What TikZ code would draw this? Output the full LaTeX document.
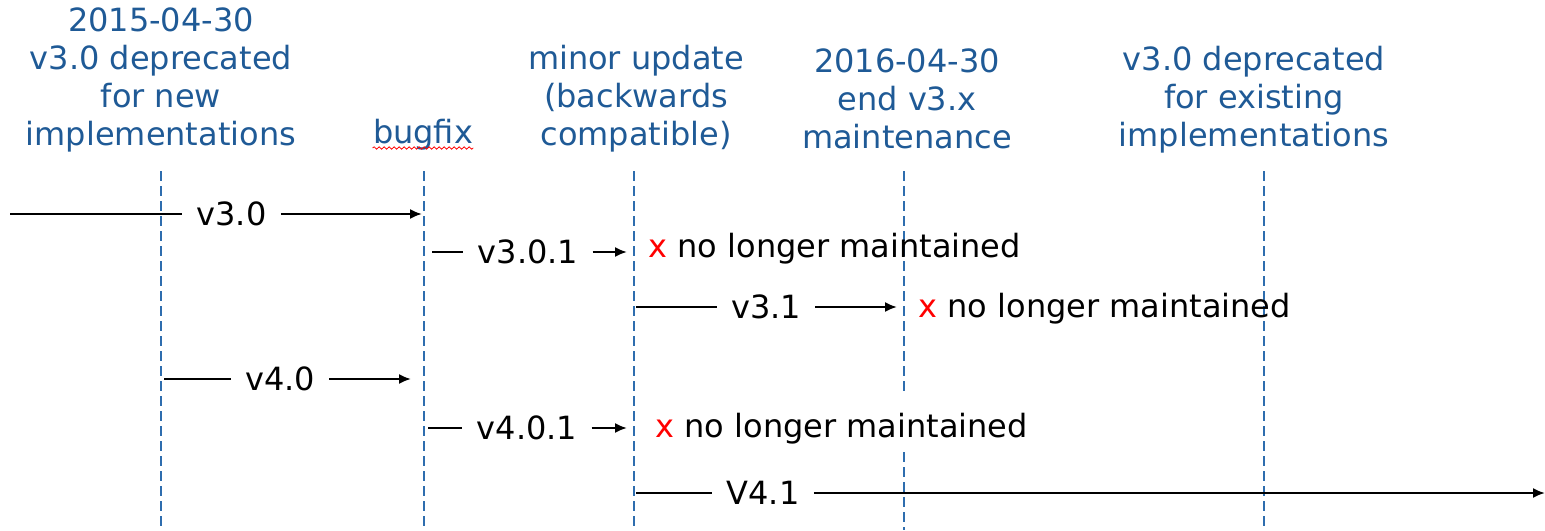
\documentclass[tikz,border=0pt]{standalone}
\usepackage{fontspec}
\setmainfont{DejaVu Sans}
\usetikzlibrary{arrows.meta,decorations.pathmorphing}
\definecolor{hdr}{RGB}{31,90,150}
\definecolor{dashblue}{RGB}{46,109,174}
\definecolor{xred}{RGB}{255,0,0}
\begin{document}
\begin{tikzpicture}[x=0.5pt,y=-0.5pt,
  hdrtext/.style={text=hdr, align=center, inner sep=0pt, anchor=base, font=\fontsize{16}{19}\selectfont},
  guide/.style={draw=dashblue, line width=1.2pt, dash pattern=on 4.75pt off 2.75pt},
  lbl/.style={inner xsep=7pt, inner ysep=0pt, font=\fontsize{16}{19}\selectfont},
  flow/.style={line width=1pt},
  flowarr/.style={line width=1pt, -{Latex[length=6pt,width=5pt]}},
  note/.style={anchor=base west, inner sep=0pt, font=\fontsize{16}{19}\selectfont}]
\useasboundingbox (0,0) rectangle (1545,530);

% headers (anchored at the baseline of their last line)
\node[hdrtext] (h1) at (161,145) {2015-04-30\\v3.0 deprecated\\for new\\implementations};
\node[hdrtext] (h2) at (423,143) {bugfix};
\node[hdrtext] (h3) at (636,145) {minor update\\(backwards\\compatible)};
\node[hdrtext] (h4) at (907,148) {2016-04-30\\end v3.x\\maintenance};
\node[hdrtext] (h5) at (1254,146) {v3.0 deprecated\\for existing\\implementations};
\draw[xred, line width=0.4pt, decorate, decoration={snake, amplitude=0.6pt, segment length=2.5pt}]
  ([yshift=-2.5pt]h2.base west) -- ([yshift=-2.5pt]h2.base east);

% dashed guides
\coordinate (g1t) at (161,171); \coordinate (g1b) at (161,530);
\coordinate (g2t) at (424,171); \coordinate (g2b) at (424,530);
\coordinate (g3t) at (634,171); \coordinate (g3b) at (634,530);
\coordinate (g4t) at (904,171); \coordinate (g4m) at (904,392);
\coordinate (g4n) at (904,452); \coordinate (g4b) at (904,530);
\coordinate (g5t) at (1264,171); \coordinate (g5b) at (1264,530);
\draw[guide] (g1t) -- (g1b);
\draw[guide] (g2t) -- (g2b);
\draw[guide] (g3t) -- (g3b);
\draw[guide] (g4t) -- (g4m);
\draw[guide] (g4n) -- (g4b);
\draw[guide] (g5t) -- (g5b);

% row 1: v3.0
\coordinate (s1) at (10,214); \coordinate (e1) at (422,214);
\node[lbl] (l1) at (231.5,214) {v3.0};
\draw[flow] (s1) -- (l1); \draw[flowarr] (l1) -- (e1);

% row 2: v3.0.1
\coordinate (s2) at (432,252); \coordinate (e2) at (627,252);
\node[lbl] (l2) at (528,252) {v3.0.1};
\draw[flow] (s2) -- (l2); \draw[flowarr] (l2) -- (e2);
\node[note] (n2) at (648,257) {\textcolor{xred}{x} no longer maintained};

% row 3: v3.1
\coordinate (s3) at (636,307); \coordinate (e3) at (897,307);
\node[lbl] (l3) at (766,307) {v3.1};
\draw[flow] (s3) -- (l3); \draw[flowarr] (l3) -- (e3);
\node[note] (n3) at (918,317) {\textcolor{xred}{x} no longer maintained};

% row 4: v4.0
\coordinate (s4) at (164,379); \coordinate (e4) at (411,379);
\node[lbl] (l4) at (280,379) {v4.0};
\draw[flow] (s4) -- (l4); \draw[flowarr] (l4) -- (e4);

% row 5: v4.0.1
\coordinate (s5) at (428,428); \coordinate (e5) at (627,428);
\node[lbl] (l5) at (527,428) {v4.0.1};
\draw[flow] (s5) -- (l5); \draw[flowarr] (l5) -- (e5);
\node[note] (n5) at (655,437) {\textcolor{xred}{x} no longer maintained};

% row 6: V4.1
\coordinate (s6) at (636,493); \coordinate (e6) at (1545,493);
\node[lbl] (l6) at (763,493) {V4.1};
\draw[flow] (s6) -- (l6); \draw[flowarr] (l6) -- (e6);
\end{tikzpicture}
\end{document}
